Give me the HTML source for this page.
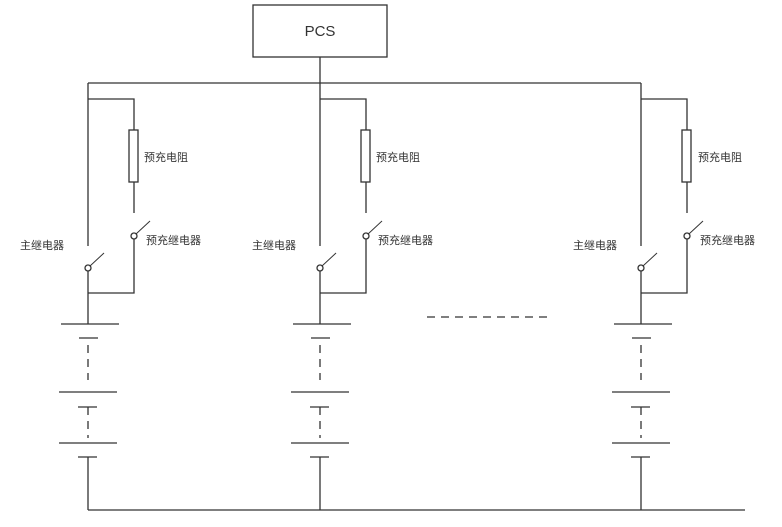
<!DOCTYPE html>
<html><head><meta charset="utf-8"><style>
html,body{margin:0;padding:0;background:#fff;}
svg{display:block;}
text{font-family:"Liberation Sans","Noto Sans CJK SC",sans-serif;font-size:11px;fill:#333;}
</style></head><body>
<svg width="782" height="527" viewBox="0 0 782 527" xmlns="http://www.w3.org/2000/svg">
<defs>
<g id="col" stroke="#333" stroke-width="1.3" fill="none">
  <line x1="0" y1="83" x2="0" y2="246"/>
  <polyline points="0,99 46,99 46,130"/>
  <rect x="41" y="130" width="9" height="52" fill="#fff"/>
  <line x1="46" y1="182" x2="46" y2="213"/>
  <circle cx="46" cy="236" r="3" fill="#fff"/>
  <line x1="48" y1="234" x2="62" y2="221" stroke-width="1"/>
  <polyline points="46,239 46,293 0,293"/>
  <circle cx="0" cy="268" r="3" fill="#fff"/>
  <line x1="2" y1="266" x2="16" y2="253" stroke-width="1"/>
  <line x1="0" y1="271" x2="0" y2="324"/>
  <line x1="-27" y1="324" x2="31" y2="324"/>
  <line x1="-9" y1="338" x2="10" y2="338"/>
  <line x1="0" y1="345" x2="0" y2="380" stroke-dasharray="8,6"/>
  <line x1="-29" y1="392" x2="29" y2="392"/>
  <line x1="-10" y1="407" x2="9" y2="407"/>
  <line x1="0" y1="407" x2="0" y2="438" stroke-dasharray="8,6"/>
  <line x1="-29" y1="443" x2="29" y2="443"/>
  <line x1="-10" y1="457" x2="9" y2="457"/>
  <line x1="0" y1="457" x2="0" y2="510"/>
</g>
</defs>
<rect x="253" y="5" width="134" height="52" fill="#fff" stroke="#333" stroke-width="1.3"/>
<text x="320" y="36" text-anchor="middle" style="font-size:15px">PCS</text>
<line x1="320" y1="57" x2="320" y2="83" stroke="#333" stroke-width="1.3"/>
<line x1="88" y1="83" x2="641" y2="83" stroke="#333" stroke-width="1.3"/>
<line x1="88" y1="510" x2="745" y2="510" stroke="#333" stroke-width="1.3"/>
<line x1="427" y1="317" x2="552" y2="317" stroke="#333" stroke-width="1.3" stroke-dasharray="8,6"/>
<use href="#col" x="88"/>
<use href="#col" x="320"/>
<use href="#col" x="641"/>
<text x="144" y="161">预充电阻</text>
<text x="146" y="244">预充继电器</text>
<text x="20" y="249">主继电器</text>
<text x="376" y="161">预充电阻</text>
<text x="378" y="244">预充继电器</text>
<text x="252" y="249">主继电器</text>
<text x="698" y="161">预充电阻</text>
<text x="700" y="244">预充继电器</text>
<text x="573" y="249">主继电器</text>
</svg>
</body></html>
